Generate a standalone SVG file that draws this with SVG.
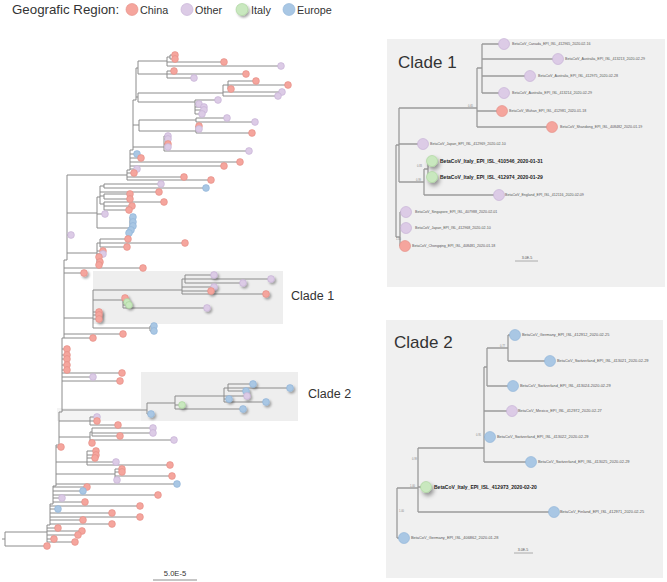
<svg xmlns="http://www.w3.org/2000/svg" width="667" height="582" viewBox="0 0 667 582">
<defs>
<style>
.t{fill:none;stroke:#8c8c8c;stroke-width:1}
.pt{fill:none;stroke:#9a9a9a;stroke-width:1.3}
.c{fill:#f5a59d;stroke:#e38b83;stroke-width:.6}
.p{fill:#dccbe6;stroke:#c3add3;stroke-width:.6}
.g{fill:#c9e8bf;stroke:#a6d197;stroke-width:.6}
.b{fill:#a9c7e4;stroke:#8db1d6;stroke-width:.6}
.s{filter:url(#sh)}
.lg{font-family:"Liberation Sans",Arial,sans-serif;fill:#333}
.lb{font-family:"Liberation Sans",Arial,sans-serif;font-size:3.6px;fill:#555}
.lb2{font-family:"Liberation Sans",Arial,sans-serif;font-size:3.9px;fill:#555}
.it{font-family:"Liberation Sans",Arial,sans-serif;font-size:5px;font-weight:bold;fill:#222}
.sp{font-family:"Liberation Sans",Arial,sans-serif;font-size:2.6px;fill:#888}
.cl{font-family:"Liberation Sans",Arial,sans-serif;fill:#333}
</style>
<filter id="sh" x="-80%" y="-80%" width="260%" height="260%"><feDropShadow dx="1.6" dy="1.8" stdDeviation="1.3" flood-color="#000" flood-opacity="0.35"/></filter>
<filter id="sh2" x="-80%" y="-80%" width="260%" height="260%"><feDropShadow dx="2" dy="3" stdDeviation="2" flood-color="#000" flood-opacity="0.4"/></filter>
</defs>
<rect width="667" height="582" fill="#fff"/>

<g id="legend">
<text class="lg" x="12" y="14" font-size="13.3">Geografic Region:</text>
<circle class="c" cx="132" cy="9.5" r="6"/><text class="lg" x="140" y="13.5" font-size="10.8">China</text>
<circle class="p" cx="187" cy="9.5" r="6"/><text class="lg" x="195" y="13.5" font-size="10.8">Other</text>
<circle class="g" cx="242" cy="9.5" r="6" filter="url(#sh)"/><text class="lg" x="251" y="13.5" font-size="10.8">Italy</text>
<circle class="b" cx="289" cy="9.5" r="6"/><text class="lg" x="297" y="13.5" font-size="10.8">Europe</text>
</g>

<g id="clade1-box"><rect x="93" y="271" width="190" height="53" fill="#eeeeee"/><text class="cl" x="291" y="300" font-size="12.5">Clade 1</text></g>
<g id="clade2-box"><rect x="141" y="372" width="157" height="49" fill="#eeeeee"/><rect x="57" y="408" width="84" height="13" fill="#f4f4f4"/><text class="cl" x="308" y="398" font-size="12.5">Clade 2</text></g>

<g id="connectors">
<path class="t" d="M2,539H5M5,532V546M5,546H47M5,532H47
M47,542V525H50V504H53V486H56V445H59V412H62V338H64V260H67V175H127
M127,180V170H130V150H133V100H136V68
M136,68H138M138,61V74M138,61H167M167,57V66M167,57H170M170,55V59M170,55H175M170,59H175M167,62H224M167,66H281
M138,74H167M167,71V78M167,71H174M167,74H246M167,78H194
M136,97H138M138,93V102M138,93H223M223,85V96M223,85H228M228,81V89M228,81H256M228,85H288M228,89H231M223,92H282M223,96H278
M138,102H195M195,100V114M195,100H218M195,104H199M195,107H204M195,110H204M195,114H202
M133,125H139M139,120V131M139,120H196M196,118V122M196,118H227M196,122H255M139,131H196M196,126V133M196,126H199M196,129H199M196,133H252
M133,147H164M164,136V151M164,136H168M164,139H168M164,144H168M164,151H249
M130,154H137M130,158H141M130,162H240M130,166H224M130,169H137M127,173H134M127,177H184M127,180H211
M67,213H97M97,197V228M97,197H100M100,186V204M100,186H104M104,184V188M104,184H161M104,188H206M100,192H159M100,196H104M104,194V199M104,194H130M104,199H130M100,204H104M104,202V210M104,202H164M104,206H132M104,210H129M97,214H105M97,228H130M130,217V233M130,217H133M130,222H133M130,226H133
M67,235H71
M67,253H97M97,243V265M97,243H100M100,239V247M100,239H128M100,243H185M100,247H127M97,251H103M97,254H103M97,257H99M97,262H100M97,265H99
M64,268H143M64,273H84
M64,318H93M93,290V328M93,290H182M182,279V294M182,279H185M185,275V283M185,275H214M185,279H271M185,283H243M182,287H214M182,291H211M182,294H266
M93,300H123M123,298V308M123,298H125M123,302H127M123,305H129M123,308H207
M93,312H99M93,315H99M93,319H99M93,328H150M150,326V331M150,326H154M150,331H154
M64,334H123M64,338H93
M62,349H67M62,355H67M62,359H67M62,365H67M62,370H67M62,373H122M62,377H93M62,381H120
M62,410H147M147,403V414M147,414H151M147,403H175M175,396V409M175,405H182M175,409H243M175,396H224M224,388V402M224,388H228M228,384V391M228,384H253M228,388H290M228,391H246M224,396H247M224,399H229M224,402H266
M59,421H90M90,417V425M90,417H97M90,421H97M90,425H118
M59,437H90M90,432V443M90,432H92M92,428V436M92,428H153M92,433H153M92,436H120M90,440H174M90,443H92
M56,447H61
M56,462H87M87,451V465M87,451H96M87,455H96M87,458H95M87,462H116M87,465H170
M56,474H115M115,469V480M115,469H122M115,472H122M115,476H172M115,480H117
M56,484H177
M53,487H87M53,491H83M53,495H158M53,498H62M53,502H85
M50,506H140M50,509H58M50,513H112M50,517H140M50,520H83M50,524H112
M47,528H58M47,531H82M47,535H78M47,539H54M47,542H75"/>
<path class="t" d="M153,580H197" stroke="#aaa" stroke-width="1.6"/>
</g>
<text class="lg" x="175" y="576" font-size="7.6" text-anchor="middle" fill="#555">5.0E-5</text>

<g id="tips">
<g id="n1"><circle class="c" cx="175" cy="55" r="3.4"/></g>
<g id="n2"><circle class="c" cx="175" cy="59" r="3.4"/></g>
<g id="n3"><circle class="c" cx="224" cy="62" r="3.4"/></g>
<g id="n4"><circle class="p" cx="281" cy="66" r="3.4"/></g>
<g id="n5"><circle class="c" cx="174" cy="71" r="3.4"/></g>
<g id="n6"><circle class="c" cx="246" cy="74" r="3.4"/></g>
<g id="n7"><circle class="p" cx="194" cy="78" r="3.4"/></g>
<g id="n8"><circle class="c" cx="256" cy="81" r="3.4"/></g>
<g id="n9"><circle class="c" cx="288" cy="85" r="3.4"/></g>
<g id="n10"><circle class="c" cx="231" cy="89" r="3.4"/></g>
<g id="n11"><circle class="p" cx="282" cy="92" r="3.4"/></g>
<g id="n12"><circle class="p" cx="278" cy="96" r="3.4"/></g>
<g id="n13"><circle class="p" cx="218" cy="100" r="3.4"/></g>
<g id="n14"><circle class="p" cx="199" cy="104" r="3.4"/></g>
<g id="n15"><circle class="p" cx="204" cy="107" r="3.4"/></g>
<g id="n16"><circle class="p" cx="204" cy="110" r="3.4"/></g>
<g id="n17"><circle class="p" cx="202" cy="114" r="3.4"/></g>
<g id="n18"><circle class="p" cx="227" cy="118" r="3.4"/></g>
<g id="n19"><circle class="p" cx="255" cy="122" r="3.4"/></g>
<g id="n20"><circle class="c" cx="199" cy="126" r="3.4"/></g>
<g id="n21"><circle class="p" cx="199" cy="129" r="3.4"/></g>
<g id="n22"><circle class="c" cx="252" cy="133" r="3.4"/></g>
<g id="n23"><circle class="p" cx="168" cy="136" r="3.4"/></g>
<g id="n24"><circle class="p" cx="168" cy="139" r="3.4"/></g>
<g id="n25"><circle class="c" cx="168" cy="144" r="3.4"/></g>
<g id="n26"><circle class="p" cx="168" cy="147" r="3.4"/></g>
<g id="n27"><circle class="p" cx="249" cy="151" r="3.4"/></g>
<g id="n28"><circle class="b" cx="137" cy="154" r="3.4"/></g>
<g id="n29"><circle class="c" cx="141" cy="158" r="3.4"/></g>
<g id="n30"><circle class="c" cx="240" cy="162" r="3.4"/></g>
<g id="n31"><circle class="c" cx="224" cy="166" r="3.4"/></g>
<g id="n32"><circle class="p" cx="137" cy="169" r="3.4"/></g>
<g id="n33"><circle class="c" cx="134" cy="173" r="3.4"/></g>
<g id="n34"><circle class="c" cx="184" cy="177" r="3.4"/></g>
<g id="n35"><circle class="c" cx="211" cy="180" r="3.4"/></g>
<g id="n36"><circle class="p" cx="161" cy="184" r="3.4"/></g>
<g id="n37"><circle class="b" cx="206" cy="188" r="3.4"/></g>
<g id="n38"><circle class="c" cx="159" cy="192" r="3.4"/></g>
<g id="n39"><circle class="c" cx="130" cy="194" r="3.4"/></g>
<g id="n40"><circle class="c" cx="130" cy="199" r="3.4"/></g>
<g id="n41"><circle class="c" cx="164" cy="202" r="3.4"/></g>
<g id="n42"><circle class="c" cx="132" cy="206" r="3.4"/></g>
<g id="n43"><circle class="c" cx="129" cy="210" r="3.4"/></g>
<g id="n44"><circle class="p" cx="105" cy="214" r="3.4"/></g>
<g id="n45"><circle class="b" cx="133" cy="217" r="3.4"/></g>
<g id="n46"><circle class="b" cx="133" cy="222" r="3.4"/></g>
<g id="n47"><circle class="b" cx="133" cy="226" r="3.4"/></g>
<g id="n48"><circle class="b" cx="131" cy="230" r="3.4"/></g>
<g id="n49"><circle class="b" cx="129" cy="233" r="3.4"/></g>
<g id="n50"><circle class="p" cx="71" cy="235" r="3.4"/></g>
<g id="n51"><circle class="c" cx="128" cy="239" r="3.4"/></g>
<g id="n52"><circle class="c" cx="185" cy="243" r="3.4"/></g>
<g id="n53"><circle class="c" cx="127" cy="247" r="3.4"/></g>
<g id="n54"><circle class="c" cx="103" cy="251" r="3.4"/></g>
<g id="n55"><circle class="p" cx="103" cy="254" r="3.4"/></g>
<g id="n56"><circle class="c" cx="99" cy="257" r="3.4"/></g>
<g id="n57"><circle class="c" cx="100" cy="262" r="3.4"/></g>
<g id="n58"><circle class="c" cx="99" cy="265" r="3.4"/></g>
<g id="n59"><circle class="c" cx="143" cy="268" r="3.4"/></g>
<g id="n60"><circle class="c s" cx="84" cy="273" r="3.4"/></g>
<g id="n61"><circle class="p s" cx="214" cy="275" r="3.4"/></g>
<g id="n62"><circle class="p s" cx="271" cy="279" r="3.4"/></g>
<g id="n63"><circle class="p s" cx="243" cy="283" r="3.4"/></g>
<g id="n64"><circle class="p s" cx="214" cy="287" r="3.4"/></g>
<g id="n65"><circle class="c s" cx="211" cy="291" r="3.4"/></g>
<g id="n66"><circle class="c s" cx="266" cy="294" r="3.4"/></g>
<g id="n67"><circle class="c s" cx="125" cy="298" r="3.4"/></g>
<g id="n68"><circle class="g s" cx="127" cy="302" r="3.4"/></g>
<g id="n69"><circle class="g s" cx="129" cy="305" r="3.4"/></g>
<g id="n70"><circle class="p s" cx="207" cy="308" r="3.4"/></g>
<g id="n71"><circle class="c s" cx="99" cy="312" r="3.4"/></g>
<g id="n72"><circle class="c s" cx="99" cy="315" r="3.4"/></g>
<g id="n73"><circle class="c s" cx="99" cy="319" r="3.4"/></g>
<g id="n74"><circle class="b" cx="154" cy="326" r="3.4"/></g>
<g id="n75"><circle class="b" cx="154" cy="331" r="3.4"/></g>
<g id="n76"><circle class="c" cx="123" cy="334" r="3.4"/></g>
<g id="n77"><circle class="c" cx="93" cy="338" r="3.4"/></g>
<g id="n78"><circle class="c" cx="67" cy="349" r="3.4"/></g>
<g id="n79"><circle class="c" cx="67" cy="355" r="3.4"/></g>
<g id="n80"><circle class="c" cx="67" cy="359" r="3.4"/></g>
<g id="n81"><circle class="c" cx="67" cy="365" r="3.4"/></g>
<g id="n82"><circle class="c" cx="67" cy="370" r="3.4"/></g>
<g id="n83"><circle class="c" cx="122" cy="373" r="3.4"/></g>
<g id="n84"><circle class="p" cx="93" cy="377" r="3.4"/></g>
<g id="n85"><circle class="c" cx="120" cy="381" r="3.4"/></g>
<g id="n86"><circle class="b s" cx="253" cy="384" r="3.4"/></g>
<g id="n87"><circle class="b s" cx="290" cy="388" r="3.4"/></g>
<g id="n88"><circle class="b s" cx="246" cy="391" r="3.4"/></g>
<g id="n89"><circle class="p s" cx="247" cy="396" r="3.4"/></g>
<g id="n90"><circle class="b s" cx="229" cy="399" r="3.4"/></g>
<g id="n91"><circle class="b s" cx="266" cy="402" r="3.4"/></g>
<g id="n92"><circle class="g s" cx="182" cy="405" r="3.4"/></g>
<g id="n93"><circle class="b s" cx="243" cy="409" r="3.4"/></g>
<g id="n94"><circle class="b s" cx="151" cy="414" r="3.4"/></g>
<g id="n95"><circle class="p" cx="97" cy="417" r="3.4"/></g>
<g id="n96"><circle class="c" cx="97" cy="421" r="3.4"/></g>
<g id="n97"><circle class="c" cx="118" cy="425" r="3.4"/></g>
<g id="n98"><circle class="p" cx="153" cy="428" r="3.4"/></g>
<g id="n99"><circle class="p" cx="153" cy="433" r="3.4"/></g>
<g id="n100"><circle class="c" cx="120" cy="436" r="3.4"/></g>
<g id="n101"><circle class="p" cx="174" cy="440" r="3.4"/></g>
<g id="n102"><circle class="c" cx="92" cy="443" r="3.4"/></g>
<g id="n103"><circle class="c" cx="61" cy="447" r="3.4"/></g>
<g id="n104"><circle class="c" cx="96" cy="451" r="3.4"/></g>
<g id="n105"><circle class="c" cx="96" cy="455" r="3.4"/></g>
<g id="n106"><circle class="c" cx="95" cy="458" r="3.4"/></g>
<g id="n107"><circle class="p" cx="116" cy="462" r="3.4"/></g>
<g id="n108"><circle class="c" cx="170" cy="465" r="3.4"/></g>
<g id="n109"><circle class="c" cx="122" cy="469" r="3.4"/></g>
<g id="n110"><circle class="c" cx="122" cy="472" r="3.4"/></g>
<g id="n111"><circle class="c" cx="172" cy="476" r="3.4"/></g>
<g id="n112"><circle class="p" cx="117" cy="480" r="3.4"/></g>
<g id="n113"><circle class="b" cx="177" cy="484" r="3.4"/></g>
<g id="n114"><circle class="c" cx="87" cy="487" r="3.4"/></g>
<g id="n115"><circle class="b" cx="83" cy="491" r="3.4"/></g>
<g id="n116"><circle class="c" cx="158" cy="495" r="3.4"/></g>
<g id="n117"><circle class="p" cx="62" cy="498" r="3.4"/></g>
<g id="n118"><circle class="c" cx="85" cy="502" r="3.4"/></g>
<g id="n119"><circle class="c" cx="140" cy="506" r="3.4"/></g>
<g id="n120"><circle class="b" cx="58" cy="509" r="3.4"/></g>
<g id="n121"><circle class="c" cx="112" cy="513" r="3.4"/></g>
<g id="n122"><circle class="c" cx="140" cy="517" r="3.4"/></g>
<g id="n123"><circle class="c" cx="83" cy="520" r="3.4"/></g>
<g id="n124"><circle class="c" cx="112" cy="524" r="3.4"/></g>
<g id="n125"><circle class="c" cx="58" cy="528" r="3.4"/></g>
<g id="n126"><circle class="c" cx="82" cy="531" r="3.4"/></g>
<g id="n127"><circle class="c" cx="78" cy="535" r="3.4"/></g>
<g id="n128"><circle class="c" cx="54" cy="539" r="3.4"/></g>
<g id="n129"><circle class="c" cx="75" cy="542" r="3.4"/></g>
<g id="n130"><circle class="c" cx="47" cy="546" r="3.4"/></g>
</g>

<g id="panel1">
<rect x="387" y="39" width="278" height="248" fill="#f0f0f0"/>
<text class="cl" x="398" y="68" font-size="17">Clade 1</text>
<path class="pt" d="M482,44V93M482,44H504M482,59H558M482,76H530M482,93H504
M477,68V127M477,68H482M477,111H502M477,127H552M399,108H477
M399,108V182M399,144H423M399,182H424M424,169V195M424,195H499M424,169H428M428,161V177M428,161H432M428,177H432
M396,145V237M396,145H399M396,237H400M400,212V246M400,212H406M400,228H406M400,246H405"/>
<text class="sp" x="468" y="106.5">0.65</text>
<text class="sp" x="417" y="167">0.83</text>
<text class="sp" x="416" y="180.5">0.99</text>
<text class="sp" x="396" y="240">1.00</text>
<g id="p1n1"><circle class="p" cx="504" cy="44" r="5.5"/><text class="lb" x="512" y="45.3">BetaCoV_Canada_EPI_ISL_412965_2020-02-16</text></g>
<g id="p1n2"><circle class="p" cx="558" cy="59" r="5.5"/><text class="lb" x="565" y="60.3">BetaCoV_Australia_EPI_ISL_413213_2020-02-29</text></g>
<g id="p1n3"><circle class="p" cx="530" cy="76" r="5.5"/><text class="lb" x="538" y="77.3">BetaCoV_Australia_EPI_ISL_412975_2020-02-28</text></g>
<g id="p1n4"><circle class="p" cx="504" cy="93" r="5.5"/><text class="lb" x="512" y="94.3">BetaCoV_Australia_EPI_ISL_413214_2020-02-29</text></g>
<g id="p1n5"><circle class="c" cx="502" cy="111" r="5.5"/><text class="lb" x="509" y="112.3">BetaCoV_Wuhan_EPI_ISL_412981_2020-01-18</text></g>
<g id="p1n6"><circle class="c" cx="552" cy="127" r="5.5"/><text class="lb" x="560" y="128.3">BetaCoV_Shandong_EPI_ISL_408482_2020-01-19</text></g>
<g id="p1n7"><circle class="p" cx="423" cy="144" r="5.5"/><text class="lb" x="430" y="145.3">BetaCoV_Japan_EPI_ISL_412969_2020-02-10</text></g>
<g id="p1n8"><circle class="g" cx="432" cy="161" r="5.5" filter="url(#sh2)"/><text class="it" x="440" y="162.8">BetaCoV_Italy_EPI_ISL_410546_2020-01-31</text></g>
<g id="p1n9"><circle class="g" cx="432" cy="177" r="5.5" filter="url(#sh2)"/><text class="it" x="440" y="178.8">BetaCoV_Italy_EPI_ISL_412974_2020-01-29</text></g>
<g id="p1n10"><circle class="p" cx="499" cy="195" r="5.5"/><text class="lb" x="505" y="196.3">BetaCoV_England_EPI_ISL_412116_2020-02-09</text></g>
<g id="p1n11"><circle class="p" cx="406" cy="212" r="5.5"/><text class="lb" x="415" y="213.3">BetaCoV_Singapore_EPI_ISL_407988_2020-02-01</text></g>
<g id="p1n12"><circle class="p" cx="406" cy="228" r="5.5"/><text class="lb" x="415" y="229.3">BetaCoV_Japan_EPI_ISL_412968_2020-02-10</text></g>
<g id="p1n13"><circle class="c" cx="405" cy="246" r="5.5"/><text class="lb" x="412" y="247.3">BetaCoV_Chongqing_EPI_ISL_408481_2020-01-18</text></g>
<path d="M515,261H538" stroke="#999" stroke-width="0.8"/>
<text class="lb" x="527" y="259" text-anchor="middle">3.0E-5</text>
</g>

<g id="panel2">
<rect x="386" y="320" width="277" height="258" fill="#f0f0f0"/>
<text class="cl" x="394" y="348" font-size="17">Clade 2</text>
<path class="pt" d="M508,335V361M508,335H515M508,361H550M487,348H508M487,348V386M487,386H513
M484,367H487M484,367V462M484,411H512M484,437H490M484,462H531
M418,448H484M418,448V512M418,487H426M418,512H554M397,488H418M397,488V538M397,538H404"/>
<text class="sp" x="500" y="346.5">0.77</text>
<text class="sp" x="476" y="435.5">0.95</text>
<text class="sp" x="412" y="460">0.99</text>
<text class="sp" x="410" y="486.5">1.00</text>
<text class="sp" x="399" y="512">1.00</text>
<g id="p2n1"><circle class="b" cx="515" cy="335" r="5.5"/><text class="lb2" x="522" y="336.4">BetaCoV_Germany_EPI_ISL_412912_2020-02-25</text></g>
<g id="p2n2"><circle class="b" cx="550" cy="361" r="5.5"/><text class="lb2" x="557" y="362.4">BetaCoV_Switzerland_EPI_ISL_413021_2020-02-29</text></g>
<g id="p2n3"><circle class="b" cx="513" cy="386" r="5.5"/><text class="lb2" x="520" y="387.4">BetaCoV_Switzerland_EPI_ISL_413024-2020-02-29</text></g>
<g id="p2n4"><circle class="p" cx="512" cy="411" r="5.5"/><text class="lb2" x="518" y="412.4">BetaCoV_Mexico_EPI_ISL_412972_2020-02-27</text></g>
<g id="p2n5"><circle class="b" cx="490" cy="437" r="5.5"/><text class="lb2" x="497" y="438.4">BetaCoV_Switzerland_EPI_ISL_413022_2020-02-29</text></g>
<g id="p2n6"><circle class="b" cx="531" cy="462" r="5.5"/><text class="lb2" x="538" y="463.4">BetaCoV_Switzerland_EPI_ISL_413025_2020-02-29</text></g>
<g id="p2n7"><circle class="g" cx="426" cy="487" r="5.5" filter="url(#sh2)"/><text class="it" x="434" y="488.8">BetaCoV_Italy_EPI_ISL_412973_2020-02-20</text></g>
<g id="p2n8"><circle class="b" cx="554" cy="512" r="5.5"/><text class="lb2" x="560" y="513.4">BetaCoV_Finland_EPI_ISL_412971_2020-02-25</text></g>
<g id="p2n9"><circle class="b" cx="404" cy="538" r="5.5"/><text class="lb2" x="411" y="539.4">BetaCoV_Germany_EPI_ISL_406862_2020-01-28</text></g>
<path d="M514,553H533" stroke="#999" stroke-width="0.8"/>
<text class="lb" x="523" y="551" text-anchor="middle">3.0E-5</text>
</g>
</svg>
